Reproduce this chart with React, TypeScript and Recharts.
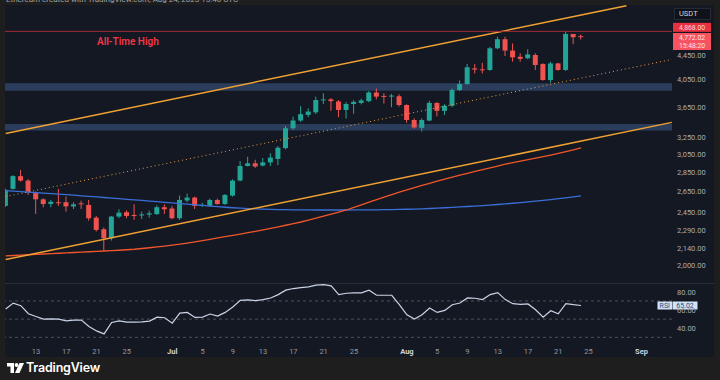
import { ComposedChart, LineChart, Bar, Line, XAxis, YAxis, ReferenceLine, ReferenceArea } from 'recharts';

// ETH/USDT daily, 9 Jun 2025 -> 24 Aug 2025
const START = Date.UTC(2025, 5, 9);
const DAY = 86400000;

const open = [2510, 2677, 2810, 2763, 2640, 2573, 2528, 2545, 2545, 2505, 2535, 2519, 2400, 2297, 2220, 2410, 2450, 2425, 2420, 2428, 2433, 2497, 2485, 2395, 2562, 2590, 2510, 2510, 2567, 2528, 2610, 2763, 2920, 2950, 2925, 2960, 3000, 3125, 3370, 3470, 3545, 3580, 3750, 3760, 3730, 3612, 3695, 3710, 3735, 3860, 3810, 3800, 3805, 3681, 3477, 3375, 3470, 3710, 3600, 3670, 3897, 3985, 4230, 4215, 4204, 4565, 4725, 4525, 4420, 4395, 4450, 4300, 4047, 4310, 4204, 4820, 4780];
const high = [2680, 2820, 2877, 2778, 2650, 2583, 2567, 2677, 2600, 2545, 2560, 2567, 2416, 2313, 2416, 2478, 2468, 2525, 2456, 2465, 2515, 2525, 2510, 2610, 2630, 2600, 2540, 2580, 2580, 2625, 2775, 2975, 3025, 2990, 3010, 3065, 3150, 3400, 3520, 3665, 3635, 3800, 3850, 3780, 3751, 3720, 3750, 3770, 3880, 3920, 3850, 3840, 3835, 3690, 3500, 3500, 3740, 3720, 3690, 3920, 4040, 4300, 4300, 4320, 4590, 4770, 4770, 4650, 4479, 4548, 4479, 4312, 4338, 4322, 4868, 4820, 4810];
const low = [2500, 2670, 2752, 2616, 2434, 2497, 2497, 2510, 2456, 2480, 2480, 2373, 2277, 2118, 2200, 2395, 2395, 2380, 2388, 2400, 2425, 2435, 2385, 2380, 2545, 2480, 2500, 2500, 2520, 2520, 2600, 2755, 2915, 2900, 2915, 2920, 2930, 3110, 3350, 3450, 3514, 3556, 3695, 3600, 3514, 3495, 3560, 3690, 3720, 3760, 3700, 3650, 3660, 3440, 3365, 3330, 3460, 3525, 3544, 3650, 3880, 3975, 4150, 4150, 4190, 4550, 4433, 4338, 4338, 4378, 4204, 4036, 4007, 4193, 4190, 4638, 4720];
const close = [2667, 2810, 2763, 2650, 2573, 2528, 2550, 2540, 2505, 2525, 2525, 2395, 2291, 2220, 2410, 2446, 2416, 2415, 2430, 2440, 2497, 2478, 2395, 2567, 2590, 2510, 2520, 2567, 2528, 2616, 2763, 2920, 2950, 2915, 2960, 3015, 3130, 3370, 3470, 3555, 3590, 3751, 3760, 3735, 3612, 3695, 3725, 3745, 3860, 3800, 3800, 3815, 3681, 3477, 3380, 3477, 3710, 3600, 3670, 3897, 3985, 4247, 4210, 4200, 4565, 4725, 4525, 4410, 4385, 4460, 4284, 4047, 4310, 4204, 4820, 4760, 4772.02];

// moving averages
const maBlue = [2660, 2655, 2650, 2645, 2640, 2635, 2630, 2625, 2620, 2614, 2608, 2603, 2597, 2591, 2585, 2579, 2573, 2568, 2562, 2556, 2550, 2544, 2538, 2532, 2526, 2520, 2514, 2508, 2502, 2497, 2492, 2488, 2484, 2481, 2479, 2477, 2475, 2474, 2473, 2472, 2472, 2471, 2471, 2471, 2471, 2471, 2472, 2472, 2473, 2473, 2474, 2475, 2476, 2478, 2480, 2482, 2485, 2488, 2492, 2496, 2500, 2504, 2508, 2513, 2518, 2523, 2529, 2535, 2541, 2548, 2555, 2562, 2570, 2579, 2588, 2597, 2607];
const maOrange = [2076, 2079, 2082, 2085, 2088, 2091, 2094, 2097, 2100, 2103, 2106, 2109, 2112, 2115, 2118, 2121, 2125, 2129, 2135, 2141, 2148, 2155, 2162, 2170, 2179, 2189, 2200, 2211, 2222, 2233, 2244, 2255, 2267, 2279, 2291, 2304, 2318, 2332, 2346, 2361, 2378, 2396, 2414, 2433, 2452, 2471, 2495, 2520, 2545, 2570, 2595, 2620, 2645, 2668, 2690, 2712, 2734, 2756, 2778, 2800, 2820, 2840, 2860, 2880, 2900, 2920, 2940, 2958, 2975, 2992, 3009, 3026, 3044, 3064, 3084, 3105, 3127];

const rsi = [61.1, 67.7, 64.8, 55.9, 52.9, 50.0, 50.3, 50.0, 48.1, 48.9, 48.9, 41.8, 37.0, 33.7, 46.3, 48.1, 46.7, 46.7, 47.0, 47.8, 52.2, 51.5, 45.6, 56.7, 57.4, 51.9, 52.2, 55.6, 53.3, 57.4, 63.3, 70.7, 71.1, 70.4, 71.5, 73.3, 77.0, 81.9, 83.7, 84.8, 85.6, 87.4, 88.1, 86.7, 77.0, 78.5, 78.9, 78.9, 81.8, 76.3, 76.3, 76.3, 65.9, 54.8, 50.0, 54.8, 62.2, 57.4, 59.6, 65.9, 67.7, 73.3, 73.0, 71.5, 77.0, 79.2, 71.5, 67.0, 66.3, 66.7, 60.3, 52.2, 59.3, 55.9, 67.0, 65.9, 65.02];

const priceTicks = [2000, 2140, 2290, 2450, 2650, 2850, 3050, 3250, 3650, 4050, 4450];
const rsiTicks = [40, 60, 80];
const rsiLevels = [30, 50, 70];
const dateTicks = ['2025-06-13', '2025-06-17', '2025-06-21', '2025-06-25', '2025-07-01', '2025-07-05', '2025-07-09', '2025-07-13', '2025-07-17', '2025-07-21', '2025-07-25', '2025-08-01', '2025-08-05', '2025-08-09', '2025-08-13', '2025-08-17', '2025-08-21', '2025-08-25', '2025-09-01'];
const MONTHS = ['Jan', 'Feb', 'Mar', 'Apr', 'May', 'Jun', 'Jul', 'Aug', 'Sep', 'Oct', 'Nov', 'Dec'];

// drawings: support zones and the rising parallel channel (day index, price)
const zones = [[3887, 3997], [3340, 3425]];
const channelUpper = [[0, 3304], [82, 5366]];
const channelMid = [[0, 2600], [88, 4376]];
const channelLower = [[0, 2047], [88, 3446]];
const ATH = 4868;
const LAST_PRICE = 4772.02;
const LAST_TIME = '15:48:20';
const LAST_RSI = 65.02;

const UP = '#22a596';
const DOWN = '#ef5350';
const BG = '#141823';
const X_DOMAIN = [-0.09, 88.02];

const data = close.map((c, i) => ({
    t: i,
    open: open[i],
    high: high[i],
    low: low[i],
    close: c,
    range: [low[i], high[i]],
    maBlue: maBlue[i],
    maOrange: maOrange[i],
    rsi: rsi[i],
}));

const tickDays = dateTicks.map(d => Math.round((Date.parse(d) - START) / DAY));

const fmtPrice = (v: number) => v.toLocaleString('en-US', { minimumFractionDigits: 2, maximumFractionDigits: 2 });

const Candle = (props: any) => {
    const { x, y, width, height, payload } = props;
    if (height == null || !payload) return null;
    const { open: o, close: c, high: h, low: l } = payload;
    const span = Math.log(h / l);
    const toY = (v: number) => y + (Math.log(h / v) / span) * height;
    const color = c >= o ? UP : DOWN;
    const top = toY(Math.max(o, c));
    const bottom = toY(Math.min(o, c));
    const cx = x + width / 2;
    return (
        <g>
            <line x1={cx} x2={cx} y1={y} y2={y + height} stroke={color} strokeWidth={1} />
            <rect x={x} y={top} width={width} height={Math.max(1, bottom - top)} fill={color} />
        </g>
    );
};

const AthLabel = ({ viewBox }: any) => {
    const right = viewBox.x + viewBox.width;
    const ly = viewBox.y;
    return (
        <g fontFamily="Roboto">
            <text x={viewBox.x + 92} y={ly + 14} fill="#f23645" fontSize={10} fontWeight={600}>All-Time High</text>
            <rect x={right + 1} y={ly - 8.5} width={38} height={9} fill="#e8303f" />
            <text x={right + 20} y={ly - 1.8} fill="#ffd9dc" textAnchor="middle" fontSize={6.8}>{fmtPrice(ATH)}</text>
        </g>
    );
};

const LastLabel = ({ viewBox }: any) => {
    const right = viewBox.x + viewBox.width;
    const ly = viewBox.y;
    return (
        <g fontFamily="Roboto" fontSize={6.8} textAnchor="middle">
            <rect x={right + 1} y={ly - 3.6} width={38} height={17} fill="#f7525f" />
            <text x={right + 20} y={ly + 3.6} fill="#ffe3e5">{fmtPrice(LAST_PRICE)}</text>
            <text x={right + 20} y={ly + 11.2} fill="#ffe3e5">{LAST_TIME}</text>
        </g>
    );
};

const RsiLabel = ({ viewBox }: any) => {
    const right = viewBox.x + viewBox.width;
    const ly = viewBox.y;
    return (
        <g fontFamily="Roboto" fontSize={7} textAnchor="middle">
            <rect x={right - 14.5} y={ly - 4} width={14.5} height={8} fill="#cfe2f8" />
            <text x={right - 7.2} y={ly + 2.5} fill="#2b4a7a">RSI</text>
            <rect x={right + 0.5} y={ly - 4} width={25} height={8} fill="#cfe2f8" />
            <text x={right + 13} y={ly + 2.5} fill="#2b4a7a">{LAST_RSI.toFixed(2)}</text>
        </g>
    );
};

const DateTick = ({ x, y, payload }: any) => {
    const d = new Date(START + payload.value * DAY);
    const first = d.getUTCDate() === 1;
    return (
        <text x={x} y={y + 7} textAnchor="middle" fontFamily="Roboto" fontSize={7.5}
            fill={first ? '#d1d4dc' : '#9598a1'} fontWeight={first ? 700 : 400}>
            {first ? MONTHS[d.getUTCMonth()] : d.getUTCDate()}
        </text>
    );
};

const seg = (p: number[][]) => [{ x: p[0][0], y: p[0][1] }, { x: p[1][0], y: p[1][1] }];

export default function App() {
    return (
        <div style={{ position: 'absolute', left: 0, top: 0, width: 720, height: 380, background: '#1e1e1e', overflow: 'hidden', fontFamily: 'Roboto' }}>
            <div style={{ position: 'absolute', left: 6, top: -5, fontSize: 8, color: '#a0a3ab', whiteSpace: 'nowrap' }}>
                Ethereum created with TradingView.com, Aug 24, 2025 15:48 UTC
            </div>
            <div style={{ position: 'absolute', left: 5, top: 5, width: 709, height: 352, background: BG }} />
            <div style={{ position: 'absolute', left: 5, top: 283, width: 709, height: 1, background: '#2a2e39' }} />

            {/* price pane */}
            <div style={{ position: 'absolute', left: 5, top: 5 }}>
                <ComposedChart width={709} height={278} data={data} margin={{ top: 0, right: 0, bottom: 0, left: 0 }}>
                    <XAxis type="number" dataKey="t" domain={X_DOMAIN} allowDataOverflow hide />
                    <YAxis orientation="right" scale="log" domain={[1873, 5380]} allowDataOverflow ticks={priceTicks}
                        width={42} axisLine={false} tickLine={false} tickSize={0} tickMargin={5}
                        tick={{ fill: '#a9acb4', fontSize: 7.5, fontFamily: 'Roboto' }} tickFormatter={fmtPrice} />
                    {zones.map(([a, b], k) => (
                        <ReferenceArea key={k} y1={a} y2={b} fill="#2b3d5c" fillOpacity={1} stroke="none" />
                    ))}
                    <Bar dataKey="range" barSize={5} shape={<Candle />} isAnimationActive={false} />
                    <Line dataKey="maBlue" stroke="#3a6fd8" strokeWidth={1.3} dot={false} isAnimationActive={false} />
                    <Line dataKey="maOrange" stroke="#f0562a" strokeWidth={1.3} dot={false} isAnimationActive={false} />
                    <ReferenceLine segment={seg(channelUpper)} stroke="#f0a132" strokeWidth={1.5} />
                    <ReferenceLine segment={seg(channelLower)} stroke="#f0a132" strokeWidth={1.5} />
                    <ReferenceLine segment={seg(channelMid)} stroke="#e8a04a" strokeWidth={1} strokeDasharray="1 3" />
                    <ReferenceLine y={ATH} stroke="#a12c38" strokeWidth={1} label={<AthLabel />} />
                    <ReferenceLine y={LAST_PRICE} stroke="none" label={<LastLabel />} />
                </ComposedChart>
            </div>

            {/* RSI pane */}
            <div style={{ position: 'absolute', left: 5, top: 283 }}>
                <LineChart width={709} height={74} data={data} margin={{ top: 0, right: 0, bottom: 0, left: 0 }}>
                    <XAxis type="number" dataKey="t" domain={X_DOMAIN} allowDataOverflow ticks={tickDays} interval={0}
                        height={12} axisLine={false} tickLine={false} tickSize={0} tick={<DateTick />} />
                    <YAxis orientation="right" domain={[21.5, 89.8]} allowDataOverflow ticks={rsiTicks}
                        width={42} axisLine={false} tickLine={false} tickSize={0} tickMargin={5}
                        tick={{ fill: '#a9acb4', fontSize: 7.5, fontFamily: 'Roboto' }} tickFormatter={(v: number) => v.toFixed(2)} />
                    {rsiLevels.map(v => (
                        <ReferenceLine key={v} y={v} stroke="#4d515c" strokeDasharray="3 3" />
                    ))}
                    <Line dataKey="rsi" stroke="#c9d3e6" strokeWidth={1.2} dot={false} isAnimationActive={false} />
                    <ReferenceLine y={LAST_RSI} stroke="none" label={<RsiLabel />} />
                </LineChart>
            </div>

            <div style={{ position: 'absolute', left: 674, top: 8, width: 37, height: 12, background: '#0f121a', border: '1px solid #262a33', boxSizing: 'border-box', color: '#d1d4dc', fontSize: 7.5, lineHeight: '10px', paddingLeft: 4 }}>
                USDT
            </div>

            {/* footer */}
            <svg style={{ position: 'absolute', left: 7, top: 363 }} width={18} height={11}>
                <path d="M0 0 H7 V10 H3.5 V3.5 H0 Z" fill="#ffffff" />
                <circle cx={9.5} cy={2} r={1.9} fill="#ffffff" />
                <path d="M12.5 0 H17 L12.5 10 H8 Z" fill="#ffffff" />
            </svg>
            <div style={{ position: 'absolute', left: 26, top: 360, fontSize: 12.5, fontWeight: 600, color: '#ffffff', fontFamily: 'Inter', letterSpacing: -0.2 }}>
                TradingView
            </div>
        </div>
    );
}
